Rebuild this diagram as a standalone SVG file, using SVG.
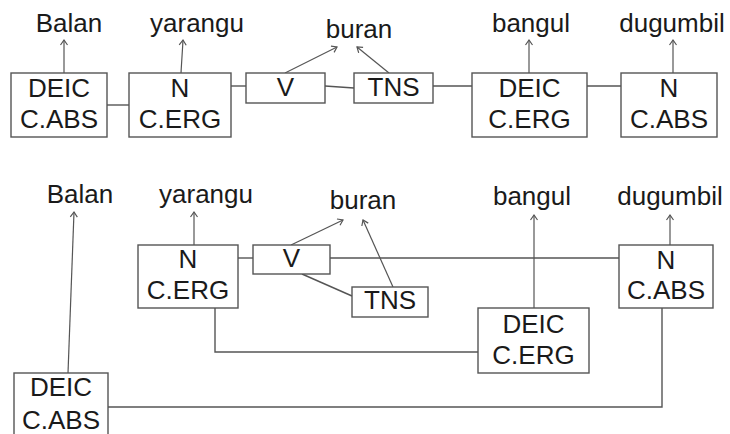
<svg xmlns="http://www.w3.org/2000/svg" width="730" height="434" viewBox="0 0 730 434">
  <style>
    .box { fill: #ffffff; stroke: #555555; stroke-width: 1.4; }
    .ln { fill: none; stroke: #555555; stroke-width: 1.4; }
    .arr { fill: none; stroke: #555555; stroke-width: 1.2; marker-end: url(#head); }
    text { font-family: "Liberation Sans", Arial, sans-serif; font-size: 26px; fill: #1a1a1a; text-anchor: middle; }
  </style>
  <defs>
    <marker id="head" markerUnits="userSpaceOnUse" markerWidth="12" markerHeight="12" viewBox="-6 -6 12 12" refX="0" refY="0" orient="auto">
      <path d="M-5,-3.5 L0,0 L-5,3.5" fill="none" stroke="#555555" stroke-width="1.2"/>
    </marker>
  </defs>
  <rect width="730" height="434" fill="#ffffff"/>

  <!-- upper chain: linear word order -->
  <g id="connectors-top">
    <line class="ln" x1="107" y1="105" x2="129" y2="105"/>
    <line class="ln" x1="231" y1="86" x2="246" y2="86"/>
    <line class="ln" x1="325" y1="86" x2="354" y2="88"/>
    <line class="ln" x1="433" y1="86" x2="472" y2="86"/>
    <line class="ln" x1="587" y1="86" x2="621" y2="86"/>
    <line class="arr" x1="64" y1="73" x2="64" y2="40"/>
    <line class="arr" x1="181" y1="73" x2="183" y2="40"/>
    <line class="arr" x1="285" y1="73" x2="337" y2="47"/>
    <line class="arr" x1="389" y1="73" x2="357" y2="47"/>
    <line class="arr" x1="529" y1="73" x2="529" y2="40"/>
    <line class="arr" x1="673" y1="73" x2="673" y2="40"/>
  </g>

  <g id="words-top">
    <text x="69" y="32">Balan</text>
    <text x="197" y="32">yarangu</text>
    <text x="359" y="38">buran</text>
    <text x="531" y="32">bangul</text>
    <text x="672" y="32">dugumbil</text>
  </g>

  <g id="t-deic-abs">
    <rect class="box" x="11" y="73" width="96" height="64"/>
    <text x="59" y="97">DEIC</text>
    <text x="59" y="128">C.ABS</text>
  </g>
  <g id="t-n-erg">
    <rect class="box" x="129" y="73" width="102" height="64"/>
    <text x="180" y="97">N</text>
    <text x="180" y="128">C.ERG</text>
  </g>
  <g id="t-v">
    <rect class="box" x="246" y="73" width="79" height="30"/>
    <text x="285.5" y="96">V</text>
  </g>
  <g id="t-tns">
    <rect class="box" x="354" y="73" width="79" height="30"/>
    <text x="393.5" y="96">TNS</text>
  </g>
  <g id="t-deic-erg">
    <rect class="box" x="472" y="73" width="115" height="64"/>
    <text x="529.5" y="97">DEIC</text>
    <text x="529.5" y="128">C.ERG</text>
  </g>
  <g id="t-n-abs">
    <rect class="box" x="621" y="73" width="96" height="64"/>
    <text x="669" y="97">N</text>
    <text x="669" y="128">C.ABS</text>
  </g>

  <!-- lower chain: dependency structure -->
  <g id="connectors-bottom">
    <line class="ln" x1="238" y1="258" x2="253" y2="258"/>
    <line class="ln" x1="330" y1="258" x2="619" y2="258"/>
    <line class="ln" x1="302" y1="274" x2="352" y2="296"/>
    <polyline class="ln" points="215,308 215,352 478,352"/>
    <polyline class="ln" points="662,308 662,407 108,407"/>
    <line class="arr" x1="68" y1="373" x2="74" y2="212"/>
    <line class="arr" x1="194" y1="245" x2="194" y2="212"/>
    <line class="arr" x1="291" y1="245" x2="343" y2="220"/>
    <line class="arr" x1="393" y1="287" x2="363" y2="220"/>
    <line class="arr" x1="534" y1="308" x2="534" y2="215"/>
    <line class="arr" x1="670" y1="245" x2="670" y2="215"/>
  </g>

  <g id="words-bottom">
    <text x="80" y="203">Balan</text>
    <text x="206" y="203">yarangu</text>
    <text x="363" y="209">buran</text>
    <text x="532" y="205">bangul</text>
    <text x="670" y="205">dugumbil</text>
  </g>

  <g id="b-deic-abs">
    <rect class="box" x="14" y="373" width="94" height="70"/>
    <text x="61" y="396">DEIC</text>
    <text x="61" y="429">C.ABS</text>
  </g>
  <g id="b-n-erg">
    <rect class="box" x="138" y="245" width="100" height="63"/>
    <text x="188" y="268">N</text>
    <text x="188" y="299">C.ERG</text>
  </g>
  <g id="b-v">
    <rect class="box" x="253" y="245" width="77" height="29"/>
    <text x="291.5" y="267">V</text>
  </g>
  <g id="b-tns">
    <rect class="box" x="352" y="287" width="76" height="30"/>
    <text x="390" y="309">TNS</text>
  </g>
  <g id="b-deic-erg">
    <rect class="box" x="478" y="308" width="111" height="65"/>
    <text x="533.5" y="333">DEIC</text>
    <text x="533.5" y="364">C.ERG</text>
  </g>
  <g id="b-n-abs">
    <rect class="box" x="619" y="245" width="94" height="63"/>
    <text x="666" y="269">N</text>
    <text x="666" y="299">C.ABS</text>
  </g>
</svg>
